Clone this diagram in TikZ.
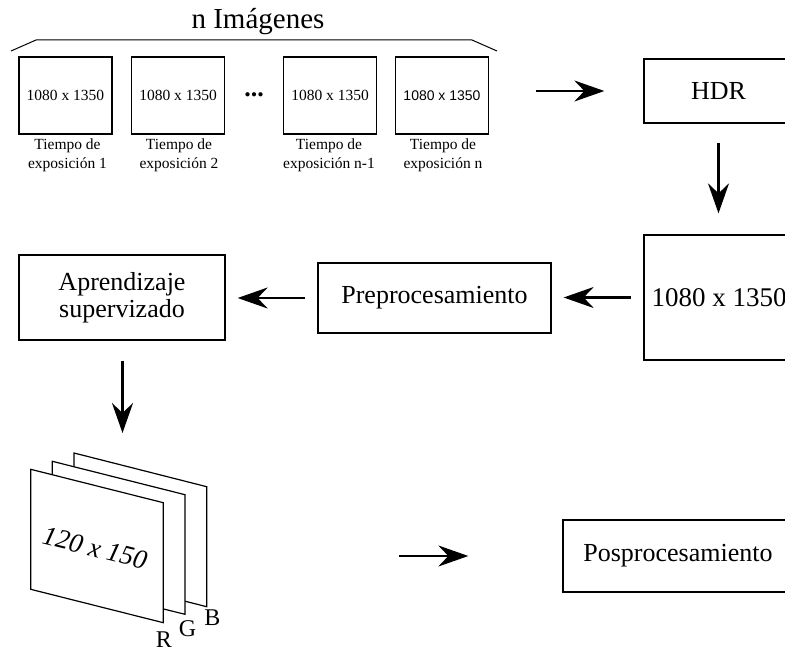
\documentclass[tikz,border=0pt]{standalone}
\usepackage{fontspec}
\setmainfont{Liberation Serif}
\newfontfamily\arialfont{Liberation Sans}
\usetikzlibrary{arrows.meta}

\tikzset{
  frame/.style={draw, line width=1.3pt, inner sep=0pt, fill=white},
  imgbox/.style={frame, minimum width=93pt, minimum height=77pt,
    font=\fontsize{15.5}{18}\selectfont},
  caption/.style={align=center, inner sep=0pt,
    font=\fontsize{15.5}{19}\selectfont},
  stage/.style={frame, font=\fontsize{26}{27}\selectfont, align=center},
  flow/.style={line width=2.2pt,
    -{Stealth[length=30pt, width=21pt, inset=10pt]}},
  plane/.style={draw, line width=1.2pt, fill=white, line join=miter},
  channel/.style={inner sep=0pt, font=\fontsize{24}{24}\selectfont},
}

\begin{document}
\begin{tikzpicture}[x=1pt, y=-1pt]
\useasboundingbox (0,0) rectangle (785,652);
\clip (0,0) rectangle (785,652);

% title and bracket over the exposure series
\node[inner sep=0pt, font=\fontsize{29}{30}\selectfont] (title) at (258,22) {n Imágenes};
\draw[line width=1pt] (11,51) -- (36,40) -- (472,40) -- (497,51);

% exposure series
\node[imgbox] (img1) at (65.5,95.5) {1080 x 1350};
\node[imgbox] (img2) at (178,95.5) {1080 x 1350};
\node[inner sep=0pt, font=\fontsize{26}{26}\selectfont\bfseries] (dots) at (254,95) {...};
\node[imgbox] (img3) at (330,95.5) {1080 x 1350};
\node[imgbox, font=\arialfont\fontsize{14}{16}\selectfont] (img4) at (442,95.5) {1080 x 1350};

\node[caption, anchor=north] (cap1) at ([xshift=2pt, yshift=-4pt]img1.south) {Tiempo de\\exposición 1};
\node[caption, anchor=north] (cap2) at ([xshift=1pt, yshift=-4pt]img2.south) {Tiempo de\\exposición 2};
\node[caption, anchor=north] (cap3) at ([xshift=-1pt, yshift=-4pt]img3.south) {Tiempo de\\exposición n-1};
\node[caption, anchor=north] (cap4) at ([xshift=1pt, yshift=-4pt]img4.south) {Tiempo de\\exposición n};

% processing stages
\node[stage, minimum width=149pt, minimum height=64pt] (hdr) at (718.5,91) {HDR};
\node[stage, minimum width=149pt, minimum height=125pt, font=\fontsize{27}{28}\selectfont] (fused) at (718.5,297.5) {\hspace*{1pt}1080 x 1350};
\node[stage, minimum width=233pt, minimum height=70pt] (pre) at (434.5,298) {Preprocesamiento};
\node[stage, minimum width=206pt, minimum height=85pt, font=\fontsize{26}{27}\selectfont] (learn) at (122,297.5) {Aprendizaje\\supervizado};
\node[stage, minimum width=230pt, minimum height=72pt] (post) at (678,556) {Posprocesamiento};

% RGB channel planes, back to front
\coordinate (stackTop) at (122.5,433);
\coordinate (stackRight) at (206.7,556);
\draw[plane] (74,453) -- (206.7,486.7) -- (206.7,606.7) -- (74,573) -- cycle;
\draw[plane] (52.3,461.3) -- (185,494.7) -- (185,614.3) -- (52.3,581.3) -- cycle;
\draw[plane] (30.7,469.3) -- (163.3,502.7) -- (163.3,622.7) -- (30.7,589.3) -- cycle;
\node[inner sep=0pt, rotate=-14, font=\fontsize{27}{27}\selectfont\itshape] (size) at (95,548) {120 x 150};
\node[channel] (chR) at (164,639.5) {R};
\node[channel] (chG) at (187.5,628.5) {G};
\node[channel] (chB) at (212.5,617.5) {B};

% flow between stages
\draw[flow, shorten <=47pt, shorten >=39pt] (img4.east |- hdr.west) -- (hdr.west);
\draw[flow, shorten <=19pt, shorten >=21pt] (hdr.south) -- (fused.north);
\draw[flow, shorten <=12pt, shorten >=12pt] (fused.west) -- (fused.west -| pre.east);
\draw[flow, shorten <=12pt, shorten >=12pt] (pre.west) -- (pre.west -| learn.east);
\draw[flow, shorten <=20pt] (learn.south -| stackTop) -- (stackTop);
\draw[flow, shorten <=192pt, shorten >=94pt] (stackRight) -- (post.west);
\end{tikzpicture}
\end{document}
